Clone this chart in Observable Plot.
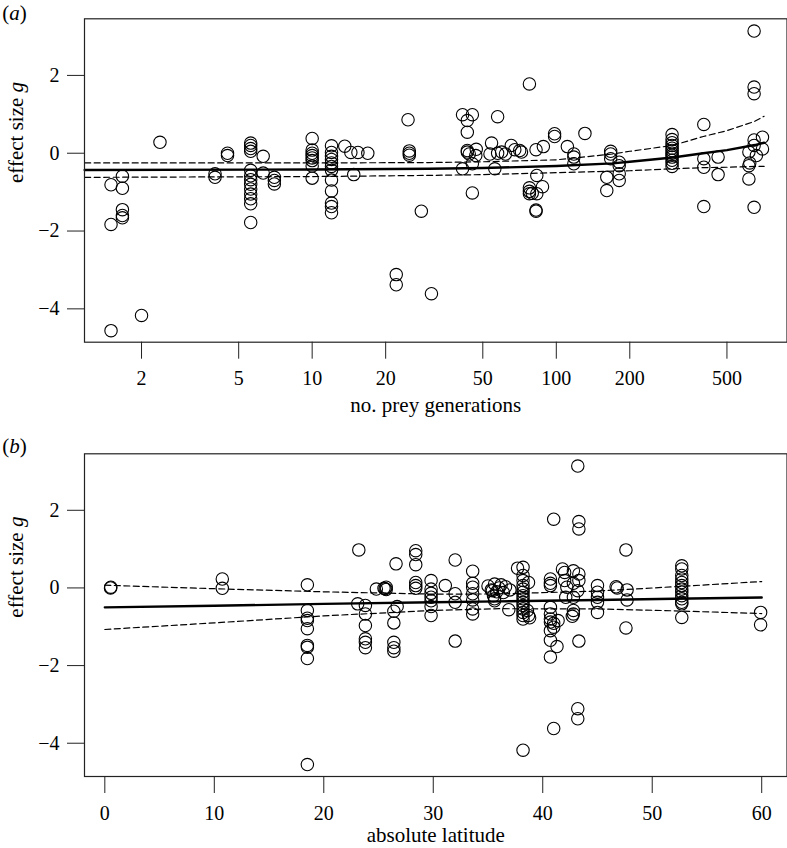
<!DOCTYPE html>
<html><head><meta charset="utf-8">
<script src="https://cdn.jsdelivr.net/npm/d3@7"></script>
<script src="https://cdn.jsdelivr.net/npm/@observablehq/plot@0.6"></script>
<style>
body{margin:0;background:#fff;}
#chart{width:787px;}
#chart svg{display:block;}
</style></head><body><div id="chart"></div>
<script>
// ---------- Panel (a): number of prey generations ----------
const genX = [1.50,1.50,1.50,1.67,1.67,1.67,1.67,1.67,2.0,2.38,
  4.0,4.0,4.5,4.5,5.6,5.6,5.6,5.6,
  5.6,5.6,5.6,5.6,5.6,5.6,5.6,5.6,5.6,
  6.3,6.3,7.0,7.0,7.0,
  10,10,10,10,10,10,10,10,
  12,12,12,12,12,12,12,12,12,12,12,12,
  13.6,14.4,15.4,16.9,14.8,22.1,22.1,24.7,25,25,25,28,30.8,
  41.3,45.3,43.2,43.2,43.2,43.2,44.0,47.0,46.8,45.3,41.3,45.3,
  56,54.3,57.5,53.5,57.5,59.7,61.9,65.4,67.6,70.8,72,
  77.6,82.6,88.5,98.4,98.4,83.2,77.6,77.6,77.6,79.7,87.8,83.2,82.6,82.6,
  111,118,118,118,131,167,167,167,161,161,
  181,181,181,181,
  298,298,298,298,298,298,298,298,298,298,298,298,
  402,402,402,402,460,460,
  646,646,646,699,646,646,699,615,660,620,615,615,646];
const genY = [-0.81,-1.83,-4.56,-0.59,-0.90,-1.45,-1.60,-1.66,-4.17,0.28,
  -0.53,-0.62,0.0,-0.06,0.26,0.20,0.12,0.05,
  -0.44,-0.58,-0.68,-0.80,-0.92,-1.05,-1.17,-1.30,-1.78,
  -0.08,-0.51,-0.62,-0.70,-0.79,
  0.38,0.08,0.0,-0.06,-0.12,-0.19,-0.33,-0.64,
  0.19,0.02,-0.08,-0.16,-0.25,-0.34,-0.44,-0.69,-0.97,-1.28,-1.37,-1.53,
  0.18,0.02,0.02,0.0,-0.55,-3.12,-3.38,0.86,0.06,0.0,-0.05,-1.49,-3.61,
  0.99,0.99,0.84,0.54,0.07,0.03,-0.02,0.10,-0.06,-0.27,-0.40,-1.02,
  -0.40,0.26,0.94,-0.02,0.0,0.03,-0.02,0.20,0.09,0.07,0.03,
  1.78,0.09,0.17,0.50,0.43,-0.57,-0.89,-0.98,-1.04,-1.03,-0.86,-1.04,-1.46,-1.49,
  0.17,-0.02,-0.10,-0.27,0.51,0.05,-0.02,-0.14,-0.62,-0.96,
  -0.23,-0.32,-0.53,-0.70,
  0.48,0.35,0.27,0.20,0.13,0.07,0.0,-0.05,-0.10,-0.18,-0.26,-0.34,
  0.74,-0.14,-0.36,-1.37,-0.10,-0.55,
  3.14,1.70,1.53,0.41,0.34,0.20,0.11,0.03,-0.06,-0.25,-0.32,-0.66,-1.39];
// fitted line and confidence band
const lineAx = [1.17, 10, 30, 50, 100, 170, 200, 300, 400, 500, 650, 710];
const fitA   = [-0.43,-0.42,-0.40,-0.38,-0.33,-0.26,-0.22,-0.11,0.0,0.08,0.21,0.27];
const upperA = [-0.25,-0.25,-0.24,-0.22,-0.17,-0.02,0.05,0.20,0.43,0.58,0.82,0.95];
const lowerA = [-0.62,-0.60,-0.57,-0.55,-0.50,-0.46,-0.45,-0.40,-0.37,-0.36,-0.34,-0.34];
const ticksAx = [2, 5, 10, 20, 50, 100, 200, 500];

// ---------- Panel (b): absolute latitude ----------
const latX = [0.52,0.55,10.73,10.73,18.5,
  18.5,18.5,18.5,18.5,18.5,18.5,18.5,18.5,
  23.2,23.1,23.8,23.8,23.8,23.8,23.8,23.8,
  24.8,25.5,25.7,25.7,25.6,26.6,26.7,26.4,26.4,26.4,26.4,26.4,
  28.4,28.4,28.4,28.4,28.4,28.4,
  29.8,29.8,29.8,29.8,29.8,29.8,29.8,31.1,32.0,32.0,32.0,32.0,
  33.6,33.6,33.6,33.6,33.6,33.6,33.6,
  35.0,35.3,35.6,35.8,36.0,36.2,36.4,35.5,36.6,37.0,35.4,35.6,35.6,36.9,
  37.7,38.2,38.2,38.2,38.2,38.2,38.2,38.2,38.2,38.2,38.2,38.2,38.2,38.2,38.2,
  38.7,38.6,38.7,38.8,38.2,
  40.7,40.7,40.7,40.7,40.7,40.7,40.7,40.7,40.7,40.7,
  41.0,41.0,41.4,41.0,41.3,41.0,
  41.8,42.0,42.0,42.2,42.1,
  43.2,43.3,43.3,42.8,43.3,43.3,42.8,43.2,42.8,42.8,42.8,42.7,43.3,43.2,43.2,
  45.0,45.0,45.0,45.0,45.0,46.7,46.8,47.6,47.7,47.7,47.6,
  52.7,52.7,52.7,52.7,52.7,52.7,52.7,52.7,52.7,52.7,52.7,52.7,52.7,
  59.9,59.9];
const latY = [0.0,0.02,0.23,-0.01,0.08,
  -0.58,-0.78,-0.84,-1.05,-1.48,-1.53,-1.82,-4.55,
  0.98,-0.41,-0.45,-0.67,-0.97,-1.31,-1.40,-1.54,
  -0.03,-0.01,-0.04,0.02,-0.02,0.62,-0.48,-0.60,-0.90,-1.40,-1.54,-1.63,
  0.96,0.86,0.60,0.14,0.06,-0.01,
  0.19,-0.03,-0.14,-0.24,-0.33,-0.48,-0.71,0.06,0.72,-0.15,-0.37,-1.37,
  0.43,0.12,0.02,-0.15,-0.31,-0.54,-0.67,
  0.05,-0.05,0.10,-0.10,0.0,0.08,-0.12,-0.20,0.03,-0.05,-0.07,-0.28,-0.33,-0.56,
  0.51,0.53,0.32,0.19,0.06,-0.03,-0.11,-0.20,-0.28,-0.37,-0.45,-0.54,-0.63,-0.71,-0.80,
  0.14,-0.58,-0.71,-0.77,-4.18,
  0.23,0.12,0.06,-0.50,-0.67,-0.80,-0.88,-1.10,-1.35,-1.78,
  1.77,-0.91,-0.84,-1.01,-1.51,-3.62,
  0.49,0.40,0.19,0.02,-0.24,
  3.14,1.71,1.52,0.44,0.36,0.19,0.12,-0.07,-0.24,-0.58,-0.67,-0.73,-1.37,-3.11,-3.37,
  0.06,-0.11,-0.24,-0.37,-0.63,0.03,0.0,0.98,-0.05,-0.31,-1.03,
  0.57,0.49,0.32,0.23,0.14,0.06,-0.03,-0.11,-0.20,-0.28,-0.37,-0.41,-0.76,
  -0.63,-0.95];
const lineBx = [0, 10, 20, 30, 36, 45, 52, 60];
const fitB   = [-0.50,-0.46,-0.41,-0.37,-0.345,-0.31,-0.28,-0.245];
const upperB = [0.07,-0.02,-0.10,-0.16,-0.155,-0.08,0.03,0.165];
const lowerB = [-1.07,-0.90,-0.72,-0.58,-0.535,-0.54,-0.59,-0.66];
const ticksBx = [0, 10, 20, 30, 40, 50, 60];

const ticksY = [-4, -2, 0, 2];
const yDomain = [-4.857, 3.455];
const FONT = '"Liberation Serif", "Times New Roman", Times, serif';

function panel(o) {
  const pts = o.xs.map((x, i) => ({x, y: o.ys[i]}));
  const rows = o.lineX.map((x, i) => ({x, fit: o.fit[i], up: o.upper[i], lo: o.lower[i]}));
  const svg = Plot.plot({
    width: 787, height: 424,
    marginLeft: 84, marginRight: 0.5, marginTop: o.mTop, marginBottom: o.mBottom,
    style: {fontFamily: FONT, fontSize: "20px", color: "#000", background: "#fff", overflow: "visible"},
    x: {type: o.xType, domain: o.xDomain},
    y: {domain: yDomain},
    marks: [
      Plot.axisX({ticks: o.xTicks, tickSize: 17, tickFormat: () => "", label: null, stroke: "#222"}),
      Plot.text(o.xTicks, {x: d => d, text: d => String(d), frameAnchor: "bottom", lineAnchor: "middle", dy: o.tickDy, fontSize: 20}),
      Plot.axisY({ticks: ticksY, tickSize: 17, tickPadding: 8, tickFormat: d => d < 0 ? "\u2212" + Math.abs(d) : String(d), label: null, fontSize: 20, stroke: "#222"}),
      Plot.line(rows, {x: "x", y: "up", stroke: "#000", strokeWidth: 1.2, strokeDasharray: "6,3.5"}),
      Plot.line(rows, {x: "x", y: "lo", stroke: "#000", strokeWidth: 1.2, strokeDasharray: "6,3.5"}),
      Plot.line(rows, {x: "x", y: "fit", stroke: "#000", strokeWidth: 2.4}),
      Plot.dot(pts, {x: "x", y: "y", r: 6.2, stroke: "#000", strokeWidth: 1.1, fill: "none"}),
      Plot.frame({stroke: "#222", strokeWidth: 1.2}),
      Plot.text([o.xTitle], {text: d => d, frameAnchor: "bottom", lineAnchor: "middle", dy: o.titleDy, fontSize: 21}),
      Plot.text(["effect size g"], {text: d => d, frameAnchor: "left", lineAnchor: "middle", dx: -68, dy: 2.5, rotate: -90, fontSize: 21}),
      Plot.text([o.tag], {text: d => d, frameAnchor: "top-left", lineAnchor: "middle", textAnchor: "start", dx: -82.3, dy: o.tagDy, fontSize: 21})
    ]
  });
  // italicise the letters that are italic in the original
  d3.select(svg).selectAll("text").each(function() {
    const t = this.textContent;
    const s = d3.select(this);
    if (t === "effect size g") {
      s.text(""); s.append("tspan").text("effect size "); s.append("tspan").attr("font-style", "italic").text("g");
    } else if (t === "(a)" || t === "(b)") {
      s.text(""); s.append("tspan").text("("); s.append("tspan").attr("font-style", "italic").text(t[1]); s.append("tspan").text(")");
    }
  });
  return svg;
}

const chart = document.getElementById("chart");
chart.appendChild(panel({
  xs: genX, ys: genY, lineX: lineAx, fit: fitA, upper: upperA, lower: lowerA,
  xType: "log", xDomain: [1.168, 881], xTicks: ticksAx, xTitle: "no. prey generations",
  tag: "(a)", mTop: 18.3, mBottom: 82.3, titleDy: 63.3, tagDy: -6, tickDy: 36.2
}));
chart.appendChild(panel({
  xs: latX, ys: latY, lineX: lineBx, fit: fitB, upper: upperB, lower: lowerB,
  xType: "linear", xDomain: [-1.856, 62.31], xTicks: ticksBx, xTitle: "absolute latitude",
  tag: "(b)", mTop: 29.3, mBottom: 72, titleDy: 59, tagDy: -7.3, tickDy: 36.9
}));
</script>
</body></html>
